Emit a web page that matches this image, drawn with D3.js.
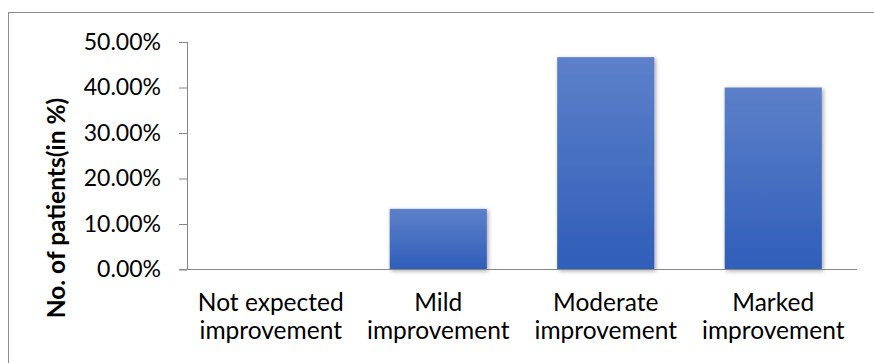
<!doctype html>
<html lang="en">
<head>
  <meta charset="UTF-8">
  <title>Improvement chart</title>
  <script src="https://cdn.jsdelivr.net/npm/d3@7"></script>
  <style>
    body { margin: 0; background: #fff; }
    text { font-family: Lato, "Open Sans", sans-serif; fill: #000; }
  </style>
</head>
<body>
  <script>

    var categories = [
      ["Not expected", "improvement"],
      ["Mild", "improvement"],
      ["Moderate", "improvement"],
      ["Marked", "improvement"]
    ];
    var values = [0, 0.1333, 0.4667, 0.40];
    var yTicks = [0, 0.1, 0.2, 0.3, 0.4, 0.5];

    var width = 874, height = 363
      , plotLeft = 187, plotRight = 857
      , plotTop = 42, plotBottom = 269.5
      ;

    var svg = d3.select("body").append("svg")
      .attr("width", width)
      .attr("height", height);

    var defs = svg.append("defs");

    var grad = defs.append("linearGradient")
      .attr("id", "barFill")
      .attr("x1", 0).attr("y1", 0)
      .attr("x2", 0).attr("y2", 1);
    grad.append("stop").attr("offset", "0%").attr("stop-color", "#5d80c9");
    grad.append("stop").attr("offset", "100%").attr("stop-color", "#2f5eb9");

    var shadow = defs.append("filter")
      .attr("id", "shadow")
      .attr("x", "-20%").attr("y", "-20%")
      .attr("width", "150%").attr("height", "150%");
    shadow.append("feDropShadow")
      .attr("dx", 1.5).attr("dy", 1.5)
      .attr("stdDeviation", 2)
      .attr("flood-color", "#000")
      .attr("flood-opacity", 0.35);

    // chart frame (runs off the right and bottom edges)
    svg.append("rect")
      .attr("x", 8.5).attr("y", 12.5)
      .attr("width", 900).attr("height", 400)
      .attr("fill", "none")
      .attr("stroke", "#8c8c8c");

    var x = d3.scaleBand()
      .domain(d3.range(categories.length))
      .range([plotLeft, plotRight])
      .paddingInner(0.42)
      .paddingOuter(0.21);

    var y = d3.scaleLinear()
      .domain([0, 0.5])
      .range([plotBottom, plotTop]);

    // bars
    svg.append("g").selectAll("rect")
      .data(values)
      .enter()
      .append("rect")
      .attr("x", function(d, i) { return x(i); })
      .attr("y", function(d) { return y(d); })
      .attr("width", x.bandwidth())
      .attr("height", function(d) { return plotBottom - y(d); })
      .attr("fill", "url(#barFill)")
      .attr("filter", function(d) { return d > 0 ? "url(#shadow)" : null; });

    // y axis
    var yAxis = svg.append("g")
      .attr("transform", "translate(" + plotLeft + ",0)")
      .call(d3.axisLeft(y)
        .tickValues(yTicks)
        .tickFormat(d3.format(".2%"))
        .tickSize(8)
        .tickPadding(18));
    yAxis.select(".domain").attr("stroke", "#868686").attr("d", "M0.5," + plotTop + "V" + plotBottom);
    yAxis.selectAll(".tick line").attr("stroke", "#868686");
    yAxis.selectAll(".tick text")
      .style("font-size", "23px")
      .style("font-family", "Lato, sans-serif")
      .attr("fill", "#000");

    // x axis line
    svg.append("line")
      .attr("x1", plotLeft - 8).attr("x2", plotRight)
      .attr("y1", plotBottom).attr("y2", plotBottom)
      .attr("stroke", "#868686");

    // category labels
    var labels = svg.append("g").selectAll("text")
      .data(categories)
      .enter()
      .append("text")
      .attr("text-anchor", "middle")
      .style("font-size", "24.5px");

    labels.selectAll("tspan")
      .data(function(d, i) { return d.map(function(t) { return { t: t, i: i }; }); })
      .enter()
      .append("tspan")
      .attr("x", function(d) { return x(d.i) + x.bandwidth() / 2; })
      .attr("y", function(d, j) { return 311 + j * 28; })
      .text(function(d) { return d.t; });

    // y title
    svg.append("text")
      .attr("transform", "translate(65,208) rotate(-90)")
      .attr("text-anchor", "middle")
      .style("font-size", "24.5px")
      .style("font-weight", "bold")
      .text("No. of patients(in %)");

  </script>
</body>
</html>
